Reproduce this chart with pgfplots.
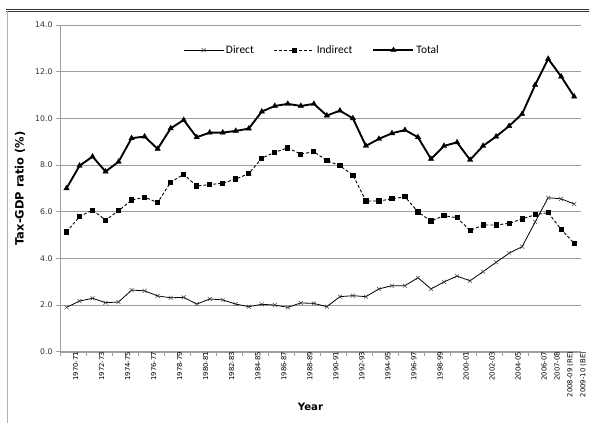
\documentclass[border=0pt]{standalone}
\usepackage{fontspec}
\setmainfont{DejaVu Sans}
\newfontfamily\carlito{Carlito}
\usepackage{pgfplots}
\pgfplotsset{compat=1.18}

\definecolor{gridgray}{gray}{0.62}

\begin{document}
\begin{tikzpicture}[x=1bp,y=1bp]
\path[use as bounding box] (0,0) rectangle (589,423);
% outer frame of the original figure
\draw[line width=0.8pt, black!80] (6,414) -- (589,414);
\draw[line width=0.8pt, black!80] (6,412) -- (589,412);
\draw[line width=0.8pt, gray!60] (7,412) -- (7,0);

\begin{axis}[
    at={(60bp,71.3bp)}, anchor=south west,
    scale only axis,
    width=520.7bp, height=326.7bp,
    xmin=-0.5, xmax=39.5,
    ymin=0, ymax=14,
    axis lines*=left,
    axis line style={gridgray},
    tick align=outside,
    major tick length=4bp,
    tick style={gridgray, line width=0.5pt},
    xtick={-0.5,0.5,...,39.5},
    xticklabels={},
    extra x ticks={0,2,4,6,8,10,12,14,16,18,20,22,24,26,28,30,32,34,36,37,38,39},
    extra x tick labels={1970-71,1972-73,1974-75,1976-77,1978-79,1980-81,1982-83,1984-85,1986-87,1988-89,1990-91,1992-93,1994-95,1996-97,1998-99,2000-01,2002-03,2004-05,2006-07,2007-08,2008-09 (RE),2009-10 (BE)},
    extra x tick style={major tick length=0pt, grid=none,
        tick label style={rotate=90, anchor=east, font=\fontsize{6.9}{8}\selectfont, inner sep=0bp, yshift=-9bp}},
    ytick={0,2,...,14},
    ymajorgrids,
    grid style={gridgray, line width=0.6pt},
    yticklabel style={font=\fontsize{7.8}{9}\selectfont, text=black!80},
    /pgf/number format/.cd, fixed, fixed zerofill, precision=1, assume math mode=true,
    /pgfplots/.cd,
    xlabel={Year},
    ylabel={Tax-GDP ratio (\%)},
    xlabel style={at={(axis description cs:0.481,0)}, anchor=center, yshift=-55bp, font=\bfseries\fontsize{10.2}{11}\selectfont},
    ylabel style={at={(axis description cs:-0.0768,0.5)}, anchor=center, font=\bfseries\fontsize{11.5}{13}\selectfont},
    legend style={at={(axis description cs:0.484,0.923)}, anchor=center, draw=none, fill=none,
        legend columns=-1, font=\carlito\fontsize{11.5}{13}\selectfont,
        /tikz/every even column/.append style={column sep=18bp}},
    legend image code/.code={\draw[mark repeat=2,mark phase=2] plot coordinates {(0bp,0bp)(20bp,0bp)(40bp,0bp)};},
]

\addplot[black, line width=0.8pt, mark=x, mark size=2.8pt, mark options={solid, black!75, line width=0.5pt}] coordinates {
(0,1.90) (1,2.17) (2,2.29) (3,2.10) (4,2.13) (5,2.64) (6,2.61) (7,2.39) (8,2.31) (9,2.33)
(10,2.04) (11,2.26) (12,2.22) (13,2.04) (14,1.93) (15,2.03) (16,2.00) (17,1.90) (18,2.09) (19,2.07)
(20,1.93) (21,2.36) (22,2.40) (23,2.36) (24,2.69) (25,2.83) (26,2.83) (27,3.17) (28,2.69) (29,2.99)
(30,3.24) (31,3.04) (32,3.43) (33,3.83) (34,4.22) (35,4.50) (36,5.56) (37,6.60) (38,6.55) (39,6.33)
};
\addlegendentry{Direct}

\addplot[black, line width=0.9pt, dash pattern=on 3bp off 2bp, mark=square*, mark size=2.1pt, mark options={solid}] coordinates {
(0,5.13) (1,5.79) (2,6.07) (3,5.64) (4,6.04) (5,6.50) (6,6.62) (7,6.39) (8,7.26) (9,7.60)
(10,7.10) (11,7.16) (12,7.22) (13,7.40) (14,7.63) (15,8.29) (16,8.55) (17,8.73) (18,8.47) (19,8.57)
(20,8.19) (21,7.97) (22,7.57) (23,6.46) (24,6.46) (25,6.55) (26,6.64) (27,5.99) (28,5.60) (29,5.83)
(30,5.74) (31,5.19) (32,5.43) (33,5.43) (34,5.50) (35,5.69) (36,5.87) (37,5.96) (38,5.24) (39,4.64)
};
\addlegendentry{Indirect}

\addplot[black, line width=1.9pt, mark=triangle*, mark size=3.2pt, mark options={solid, line width=0.3pt}] coordinates {
(0,7.00) (1,7.97) (2,8.36) (3,7.72) (4,8.14) (5,9.15) (6,9.22) (7,8.69) (8,9.57) (9,9.93)
(10,9.19) (11,9.39) (12,9.39) (13,9.46) (14,9.56) (15,10.29) (16,10.53) (17,10.62) (18,10.53) (19,10.62)
(20,10.12) (21,10.33) (22,10.00) (23,8.82) (24,9.12) (25,9.36) (26,9.50) (27,9.19) (28,8.26) (29,8.82)
(30,8.97) (31,8.22) (32,8.82) (33,9.22) (34,9.67) (35,10.19) (36,11.43) (37,12.55) (38,11.79) (39,10.93)
};
\addlegendentry{Total}

\end{axis}
\end{tikzpicture}
\end{document}
